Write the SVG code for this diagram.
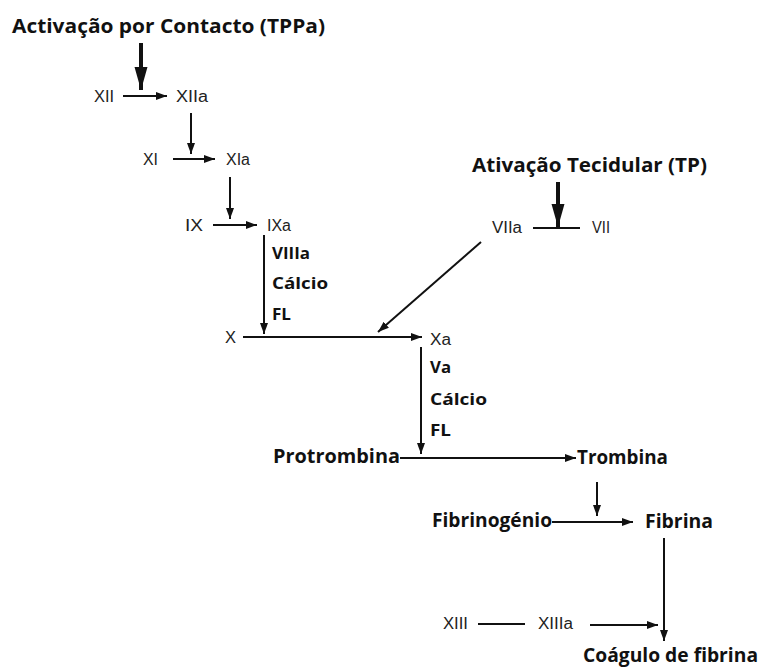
<svg xmlns="http://www.w3.org/2000/svg" width="763" height="670" viewBox="0 0 763 670">
<style>
.b{font-family:"Open Sans","Liberation Sans",sans-serif;font-weight:bold;fill:#111;}
.t{font-size:19px;}
.m{font-size:16px;}
.r{font-family:"Liberation Sans",Arial,sans-serif;font-size:16px;fill:#222;}
.ln{stroke:#111;stroke-width:2;fill:none;}
.hv{stroke:#111;stroke-width:4;fill:none;}
</style>
<defs>
<marker id="ah" markerUnits="userSpaceOnUse" markerWidth="12" markerHeight="10" refX="11" refY="4" orient="auto">
<path d="M0,0 L11,4 L0,8 Z" fill="#111"/>
</marker>
<marker id="hh" markerUnits="userSpaceOnUse" markerWidth="24" markerHeight="14" refX="23" refY="6.5" orient="auto">
<path d="M0,0 L23,6.5 L0,13 Z" fill="#111"/>
</marker>
</defs>
<rect width="763" height="670" fill="#fff"/>
<g id="connectors">
<line class="hv" x1="141" y1="43" x2="141" y2="90" marker-end="url(#hh)"/>
<line class="ln" x1="123" y1="96" x2="167" y2="96" marker-end="url(#ah)"/>
<line class="ln" x1="191" y1="113" x2="191" y2="154" marker-end="url(#ah)"/>
<line class="ln" x1="173" y1="159" x2="215" y2="159" marker-end="url(#ah)"/>
<line class="ln" x1="230" y1="177" x2="230" y2="219" marker-end="url(#ah)"/>
<line class="ln" x1="213" y1="225" x2="257" y2="225" marker-end="url(#ah)"/>
<line class="ln" x1="264" y1="235" x2="264" y2="334" marker-end="url(#ah)"/>
<line class="ln" x1="243" y1="337" x2="422" y2="337" marker-end="url(#ah)"/>
<line class="ln" x1="481" y1="242" x2="378" y2="332" marker-end="url(#ah)"/>
<line class="hv" x1="558" y1="182" x2="558" y2="227" marker-end="url(#hh)"/>
<line class="ln" x1="533" y1="228" x2="580" y2="228"/>
<line class="ln" x1="421" y1="347" x2="421" y2="454" marker-end="url(#ah)"/>
<line class="ln" x1="400" y1="458" x2="576" y2="458" marker-end="url(#ah)"/>
<line class="ln" x1="597" y1="482" x2="597" y2="516" marker-end="url(#ah)"/>
<line class="ln" x1="552" y1="522" x2="633" y2="522" marker-end="url(#ah)"/>
<line class="ln" x1="664" y1="538" x2="664" y2="641" marker-end="url(#ah)"/>
<line class="ln" x1="478" y1="624" x2="525" y2="624"/>
<line class="ln" x1="590" y1="625" x2="658" y2="625" marker-end="url(#ah)"/>
</g>
<g id="title-contacto"><text class="b t" x="12" y="33" textLength="313" lengthAdjust="spacingAndGlyphs">Activação por Contacto (TPPa)</text></g>
<g id="XII"><text class="r" x="94" y="102" textLength="20" lengthAdjust="spacingAndGlyphs">XII</text></g>
<g id="XIIa"><text class="r" x="176" y="102" textLength="32" lengthAdjust="spacingAndGlyphs">XIIa</text></g>
<g id="XI"><text class="r" x="143" y="165" textLength="15" lengthAdjust="spacingAndGlyphs">XI</text></g>
<g id="XIa"><text class="r" x="226" y="165" textLength="24" lengthAdjust="spacingAndGlyphs">XIa</text></g>
<g id="IX"><text class="r" x="185" y="231" textLength="18" lengthAdjust="spacingAndGlyphs">IX</text></g>
<g id="IXa"><text class="r" x="267" y="231" textLength="24" lengthAdjust="spacingAndGlyphs">IXa</text></g>
<g id="cofactors-1">
<text class="b m" x="272" y="259" textLength="38" lengthAdjust="spacingAndGlyphs">VIIIa</text>
<text class="b m" x="272" y="289" textLength="56" lengthAdjust="spacingAndGlyphs">Cálcio</text>
<text class="b m" x="272" y="320" textLength="19" lengthAdjust="spacingAndGlyphs">FL</text>
</g>
<g id="X"><text class="r" x="225" y="343" textLength="11" lengthAdjust="spacingAndGlyphs">X</text></g>
<g id="Xa"><text class="r" x="430" y="345" textLength="21" lengthAdjust="spacingAndGlyphs">Xa</text></g>
<g id="title-tecidular"><text class="b t" x="472" y="172" textLength="235" lengthAdjust="spacingAndGlyphs">Ativação Tecidular (TP)</text></g>
<g id="VIIa"><text class="r" x="492" y="233" textLength="30" lengthAdjust="spacingAndGlyphs">VIIa</text></g>
<g id="VII"><text class="r" x="592" y="233" textLength="18" lengthAdjust="spacingAndGlyphs">VII</text></g>
<g id="cofactors-2">
<text class="b m" x="430" y="373" textLength="21" lengthAdjust="spacingAndGlyphs">Va</text>
<text class="b m" x="430" y="405" textLength="57" lengthAdjust="spacingAndGlyphs">Cálcio</text>
<text class="b m" x="430" y="436" textLength="21" lengthAdjust="spacingAndGlyphs">FL</text>
</g>
<g id="Protrombina"><text class="b t" x="273" y="463" textLength="127" lengthAdjust="spacingAndGlyphs">Protrombina</text></g>
<g id="Trombina"><text class="b t" x="577" y="464" textLength="91" lengthAdjust="spacingAndGlyphs">Trombina</text></g>
<g id="Fibrinogenio"><text class="b t" x="432" y="527" textLength="120" lengthAdjust="spacingAndGlyphs">Fibrinogénio</text></g>
<g id="Fibrina"><text class="b t" x="645" y="528" textLength="68" lengthAdjust="spacingAndGlyphs">Fibrina</text></g>
<g id="XIII"><text class="r" x="443" y="629" textLength="25" lengthAdjust="spacingAndGlyphs">XIII</text></g>
<g id="XIIIa"><text class="r" x="538" y="629" textLength="35" lengthAdjust="spacingAndGlyphs">XIIIa</text></g>
<g id="Coagulo"><text class="b t" x="583" y="662" textLength="175" lengthAdjust="spacingAndGlyphs">Coágulo de fibrina</text></g>
</svg>
